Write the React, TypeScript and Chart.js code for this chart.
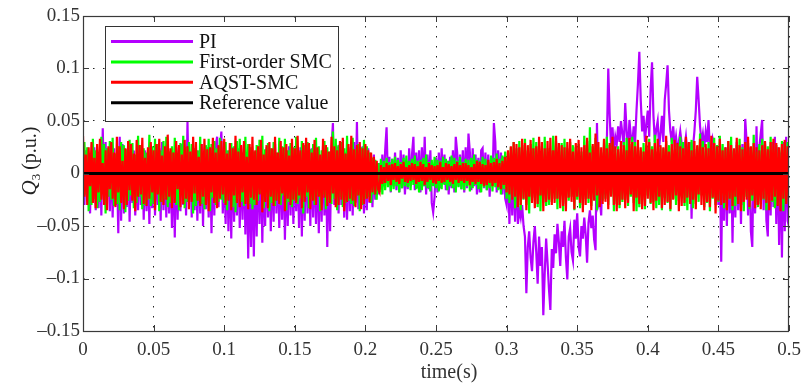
import React, { useEffect, useRef } from 'react';
import { Chart, registerables } from 'chart.js';

Chart.register(...registerables);

// sample step of the recorded signals (s); values below are in milli-p.u.
const DT = 0.001;

const PI_MILLI = [
  15, -30, 22, -25, 10, -38, 18, -28, 25, -35,
  12, -33, 20, -40, 43, -26, 30, -22, 14, -36,
  18, -42, 24, -30, 10, -57, 35, -45, 28, -38,
  20, -32, 30, -46, 15, -28, 22, -40, 12, -35,
  25, -30, 18, -44, 22, -36, 14, -48, 26, -33,
  20, -40, 16, -30, 24, -45, 30, -35, 18, -42,
  22, -38, 15, -52, 20, -61, 25, -44, 12, -36,
  28, -30, 20, -40, 49, -26, 18, -42, 24, -35,
  16, -45, 22, -38, 28, -50, 14, -34, 25, -42,
  20, -57, 18, -40, 26, 35, -32, 22, 40, -38,
  15, -48, 22, -55, 18, -62, 25, -46, 20, -40,
  24, -52, 16, -44, 28, -58, 20, -81, 14, -70,
  22, -79, 18, -60, 26, -48, 20, -66, 15, -50,
  25, -42, 18, -55, 22, -46, 28, -38, 16, -52,
  20, -44, 24, -63, 15, -50, 26, -40, 18, -48,
  22, -36, 17, -52, 25, -60, 20, -45, 28, -38,
  16, -50, 24, -42, 18, -48, 22, -57, 14, -46,
  26, -40, 20, -70, 15, -55, 24, 48, -30, 18,
  22, -38, 28, -30, 16, -42, 20, -44, 25, -36,
  18, -40, 30, -28, 49, -34, 22, -30, 26, -38,
  20, -35, 24, -28, 15, -32, 18, -25, 8, -20,
  10, -15, 18, -12, 22, 44, -10, 16, -18, 14,
  -12, 20, -16, 15, -18, 22, -14, 18, -20, 12,
  -15, 24, -12, 18, 35, -16, 20, -14, 22, -18,
  25, -12, 35, -20, 18, -15, 22, -28, -37, -22,
  15, -18, 20, -14, 24, -10, 18, -16, 12, -20,
  16, -14, 22, -18, 35, 20, -12, 18, -15, 22,
  -18, 25, -14, 38, 20, -16, 24, -12, 18, -20,
  15, -18, 22, 24, -14, 20, -16, 18, -22, 15,
  -12, 48, 30, -18, 22, -15, 20, -20, 16, -24,
  -30, 10, -48, 8, -40, 5, -46, 12, -48, -35,
  -42, -30, -50, -60, -114, -70, -55, -80, -93, -65,
  -50, -75, -105, -60, -88, -70, -135, -95, -62, -85,
  -110, -130, -72, -90, -58, -76, -48, -65, -88, -55,
  -70, -45, -80, -101, -60, -52, -75, -83, -44, -62,
  -38, -70, -79, -50, -62, -42, -58, -85, -47, -35,
  -52, -40, -63, -73, 48, -30, -25, -40, 15, -20,
  10, 30, 100, 55, 25, 44, 20, 35, 28, 45,
  30, 50, 38, 25, 67, 40, 22, 51, 35, 28,
  45, 30, 60, 85, 116, 70, 40, 55, 30, 48,
  60, 35, 80, 106, 55, 30, 42, 50, 25, 38,
  55, 30, 70, 85, 103, 60, 40, 30, 45, 25,
  35, 22, 30, 40, 28, 15, 25, 35, 20, 18,
  30, -43, 25, 40, 60, 92, 70, 45, 30, 38,
  25, 40, 30, 51, 22, 15, 33, 28, -20, 12,
  -30, 20, -84, 15, -45, 25, -50, 18, -38, 22,
  -66, 20, -42, 30, -35, 15, -48, 28, -30, 52,
  30, -40, 25, -55, -70, 20, -38, 45, -30, 25,
  38, 51, -35, 28, -45, -60, 22, -40, 30, -32,
  35, -48, 25, -68, 20, -80, 30, -55, 35, -45,
  -50,
];

const SMC1_MILLI = [
  -28, 30, -20, 25, -36, 18, -30, 33, -24, 22,
  -33, 20, -27, 35, -18, 28, -38, 24, -22, 31,
  -25, 34, -31, 19, -29, 26, -35, 30, -20, 27,
  -37, 23, -26, 32, -21, 29, -33, 18, -28, 36,
  -22, 27, -34, 24, -30, 20, -25, 37, -31, 26,
  -29, 33, -19, 28, -36, 22, -27, 31, -24, 35,
  -32, 21, -28, 26, -23, 34, -30, 19, -35, 29,
  -20, 36, -33, 25, -27, 30, -22, 28, -38, 24,
  -31, 22, -26, 35, -29, 20, -34, 27, -21, 33,
  -36, 28, -23, 31, -30, 24, -27, 34, -25, 19,
  -28, 30, -35, 22, -20, 29, -32, 26, -37, 31,
  -24, 33, -27, 20, -31, 35, -22, 28, -29, 25,
  -34, 21, -30, 27, -26, 32, -19, 36, -33, 23,
  -22, 29, -36, 24, -28, 30, -31, 20, -25, 34,
  -30, 26, -21, 33, -35, 22, -27, 29, -32, 25,
  -26, 35, -29, 20, -24, 31, -38, 27, -22, 30,
  -33, 23, -25, 28, -30, 34, -21, 26, -36, 22,
  -20, 31, -34, 25, -27, 21, -29, 40, -24, 33,
  -35, 27, -22, 30, -32, 24, -28, 36, -26, 21,
  -29, 34, -31, 23, -21, 28, -36, 25, -30, 32,
  -24, 26, -22, 20, -28, 15, -20, 13, -25, 10,
  -18, 14, -20, 12, -16, 15, -13, 11, -17, 14,
  -15, 16, -12, 13, -18, 11, -14, 15, -12, 17,
  -13, 12, -16, 14, -11, 17, -15, 12, -18, 13,
  -16, 15, -12, 18, -14, 11, -17, 13, -12, 16,
  -14, 13, -17, 12, -15, 16, -11, 14, -16, 12,
  -12, 17, -14, 15, -18, 12, -13, 16, -15, 11,
  -16, 14, -12, 13, -17, 15, -14, 18, -11, 13,
  -15, 12, -18, 16, -13, 14, -16, 11, -14, 17,
  -17, 15, -13, 19, -16, 14, -20, 17, -15, 21,
  -24, 20, -28, 25, -22, 30, -33, 24, -27, 31,
  -35, 27, -25, 33, -30, 22, -38, 28, -26, 34,
  -23, 30, -32, 26, -36, 21, -28, 35, -31, 24,
  -30, 22, -27, 36, -24, 31, -34, 25, -21, 29,
  -36, 33, -29, 24, -26, 30, -22, 27, -35, 25,
  -25, 28, -33, 21, -30, 36, -24, 31, -28, 44,
  -31, 26, -22, 34, -35, 25, -29, 20, -26, 32,
  -24, 35, -30, 27, -20, 31, -36, 23, -29, 26,
  -33, 21, -27, 30, -25, 34, -31, 28, -22, 35,
  -28, 30, -36, 24, -32, 22, -25, 29, -34, 27,
  -21, 33, -29, 26, -27, 37, -33, 21, -30, 25,
  -35, 24, -23, 31, -28, 27, -36, 34, -24, 22,
  -30, 28, -26, 35, -22, 30, -31, 25, -35, 29,
  -24, 32, -33, 23, -29, 26, -27, 38, -21, 31,
  -32, 25, -28, 30, -36, 22, -24, 34, -30, 27,
  -27, 36, -21, 28, -33, 24, -29, 31, -25, 35,
  -35, 22, -31, 27, -23, 33, -28, 25, -36, 30,
  -22, 29, -34, 24, -26, 37, -30, 21, -32, 28,
  -29, 33, -25, 30, -35, 26, -21, 35, -27, 23,
  -33, 27, -30, 22, -24, 31, -36, 28, -25, 30,
  -28,
];

const AQST_MILLI = [
  36, -22, 18, -30, 25, -12, 30, -28, 15, -33,
  28, -18, 33, -25, 10, -30, 22, -35, 26, -15,
  30, -24, 20, -32, 35, -18, 26, -28, 12, -34,
  24, -30, 31, -16, 28, -26, 19, -36, 32, -22,
  27, -20, 34, -29, 15, -31, 25, -24, 30, -18,
  22, -35, 28, -20, 33, -27, 17, -30, 26, -25,
  37, -22, 24, -33, 20, -28, 31, -15, 27, -32,
  18, -29, 32, -24, 26, -34, 21, -27, 35, -19,
  30, -26, 16, -31, 28, -22, 33, -30, 23, -36,
  25, -18, 34, -28, 20, -33, 27, -24, 31, -20,
  33, -30, 19, -26, 29, -35, 24, -21, 36, -28,
  21, -32, 27, -18, 31, -29, 16, -34, 28, -23,
  35, -25, 22, -30, 26, -20, 32, -37, 18, -27,
  27, -33, 30, -22, 24, -31, 35, -26, 20, -29,
  31, -19, 25, -36, 28, -24, 17, -30, 33, -25,
  24, -28, 36, -21, 22, -33, 29, -27, 34, -18,
  29, -34, 20, -26, 32, -30, 25, -22, 18, -35,
  33, -23, 27, -31, 21, -28, 35, -19, 26, -32,
  22, -30, 31, -25, 34, -36, 19, -27, 28, -24,
  36, -26, 23, -32, 27, -21, 30, -34, 24, -29,
  28, -24, 22, -27, 20, -18, 16, -20, 12, -15,
  -18, 8, -10, 6, -9, 10, -7, 8, -11, 9,
  -6, 10, -8, 7, -10, 9, -5, 11, -8, 6,
  -9, 8, -7, 10, -6, 9, -10, 7, -8, 11,
  -7, 9, -11, 6, -8, 10, -6, 8, -9, 7,
  -10, 8, -7, 11, -9, 6, -8, 10, -6, 9,
  -8, 7, -10, 9, -6, 11, -9, 8, -7, 10,
  -9, 10, -7, 8, -11, 6, -8, 9, -10, 12,
  -8, 11, -10, 9, -12, 8, -11, 13, -9, 10,
  -12, 11, -9, 14, -13, 10, -15, 12, -11, 16,
  -18, 22, -20, 26, -25, 30, -22, 28, -32, 25,
  -30, 33, -24, 29, -35, 27, -22, 32, -28, 24,
  -33, 26, -29, 35, -21, 30, -36, 24, -27, 31,
  -25, 34, -30, 22, -28, 36, -24, 29, -33, 27,
  -31, 25, -36, 30, -23, 33, -27, 21, -34, 29,
  -22, 32, -28, 25, -37, 27, -30, 34, -24, 20,
  -35, 28, -26, 38, -21, 30, -32, 25, -29, 33,
  -27, 24, -34, 29, -22, 35, -30, 26, -36, 23,
  -30, 31, -25, 27, -33, 22, -28, 34, -20, 30,
  -36, 26, -23, 32, -29, 25, -34, 21, -31, 36,
  -24, 30, -28, 23, -35, 29, -26, 33, -22, 27,
  -33, 25, -30, 36, -27, 21, -34, 28, -25, 32,
  -21, 29, -36, 26, -31, 24, -28, 35, -23, 30,
  -29, 22, -25, 31, -34, 27, -20, 33, -30, 25,
  -35, 28, -27, 24, -32, 36, -23, 29, -38, 26,
  -26, 33, -30, 22, -28, 25, -35, 31, -24, 27,
  -31, 24, -22, 34, -29, 27, -36, 23, -27, 30,
  -25, 35, -32, 26, -21, 29, -33, 25, -30, 22,
  -34, 27, -24, 31, -28, 23, -35, 30, -26, 33,
  -22, 29, -31, 25, -36, 28, -24, 32, -29, 26,
  -30,
];

const REFERENCE_VALUE = 0;
const T_START = 0;
const T_END = 0.5;

const SERIES_NAMES = ['PI', 'First-order SMC', 'AQST-SMC', 'Reference value'];
const SERIES_COLORS = ['#B400FF', '#00FF00', '#FF0000', '#000000'];

const X_TICKS = [0, 0.05, 0.1, 0.15, 0.2, 0.25, 0.3, 0.35, 0.4, 0.45, 0.5];
const X_LABELS = ['0', '0.05', '0.1', '0.15', '0.2', '0.25', '0.3', '0.35', '0.4', '0.45', '0.5'];
const Y_TICKS = [-0.15, -0.1, -0.05, 0, 0.05, 0.1, 0.15];
const Y_LABELS = ['\u20130.15', '\u20130.1', '\u20130.05', '0', '0.05', '0.1', '0.15'];

const X_TITLE = 'time(s)';

const FONT = '"Liberation Serif", "Times New Roman", serif';

const toPoints = (arr: number[]) => arr.map((v, i) => ({ x: i * DT, y: v / 1000 }));

const framePlugin = {
  id: 'matlabFrame',
  beforeDraw(chart: any) {
    const ctx = chart.ctx;
    ctx.save();
    ctx.fillStyle = '#ffffff';
    ctx.fillRect(0, 0, chart.width, chart.height);
    ctx.restore();
  },
  afterDraw(chart: any) {
    const ctx = chart.ctx;
    const { left, right, top, bottom } = chart.chartArea;
    const xs = chart.scales.x;
    const ys = chart.scales.y;
    ctx.save();
    // frame
    ctx.strokeStyle = '#3a3a3a';
    ctx.lineWidth = 1.2;
    ctx.setLineDash([]);
    ctx.strokeRect(left + 0.5, top + 0.5, right - left - 1, bottom - top);
    // inward tick marks
    ctx.lineWidth = 1;
    ctx.beginPath();
    X_TICKS.forEach((v) => {
      const px = Math.round(xs.getPixelForValue(v)) + 0.5;
      ctx.moveTo(px, bottom);
      ctx.lineTo(px, bottom - 6);
      ctx.moveTo(px, top);
      ctx.lineTo(px, top + 6);
    });
    Y_TICKS.forEach((v) => {
      const py = Math.round(ys.getPixelForValue(v)) + 0.5;
      ctx.moveTo(left, py);
      ctx.lineTo(left + 6, py);
      ctx.moveTo(right, py);
      ctx.lineTo(right - 6, py);
    });
    ctx.stroke();

    // legend box
    const bx = 105.5, by = 26.5, bw = 233, bh = 95;
    ctx.fillStyle = '#ffffff';
    ctx.fillRect(bx, by, bw, bh);
    ctx.strokeStyle = '#333333';
    ctx.lineWidth = 1;
    ctx.strokeRect(bx, by, bw, bh);
    ctx.font = `20px ${FONT}`;
    ctx.textBaseline = 'middle';
    ctx.textAlign = 'left';
    chart.data.datasets.forEach((ds: any, i: number) => {
      const y = 41.5 + i * 20.4;
      ctx.strokeStyle = ds.borderColor;
      ctx.lineWidth = 3;
      ctx.beginPath();
      ctx.moveTo(111, y);
      ctx.lineTo(193, y);
      ctx.stroke();
      ctx.fillStyle = '#111111';
      ctx.fillText(ds.label, 199, y + 1);
    });

    // x title
    ctx.fillStyle = '#333333';
    ctx.font = `20px ${FONT}`;
    ctx.textAlign = 'center';
    ctx.textBaseline = 'middle';
    ctx.fillText(X_TITLE, 449, 373);

    // y title: Q_3 (p.u.)
    ctx.translate(29, 161);
    ctx.rotate(-Math.PI / 2);
    const fQ = `italic 21px ${FONT}`;
    const fSub = `13px ${FONT}`;
    const fRest = `20px ${FONT}`;
    ctx.font = fQ;
    const wQ = ctx.measureText('Q').width;
    ctx.font = fSub;
    const wS = ctx.measureText('3').width;
    ctx.font = fRest;
    const rest = '\u2009(p.u.)';
    const wR = ctx.measureText(rest).width;
    let x0 = -(wQ + wS + wR) / 2;
    ctx.textAlign = 'left';
    ctx.textBaseline = 'alphabetic';
    ctx.fillStyle = '#222222';
    ctx.font = fQ;
    ctx.fillText('Q', x0, 7);
    x0 += wQ;
    ctx.font = fSub;
    ctx.fillText('3', x0, 11);
    x0 += wS;
    ctx.font = fRest;
    ctx.fillText(rest, x0, 7);
    ctx.restore();
  },
};

export default function App() {
  const ref = useRef<HTMLCanvasElement>(null);

  useEffect(() => {
    const canvas = ref.current;
    if (!canvas) return;
    const series = [PI_MILLI, SMC1_MILLI, AQST_MILLI];
    const datasets: any[] = series.map((arr, i) => ({
      label: SERIES_NAMES[i],
      data: toPoints(arr),
      borderColor: SERIES_COLORS[i],
      backgroundColor: SERIES_COLORS[i],
      borderWidth: 2.2,
      pointRadius: 0,
      tension: 0,
      fill: false,
      order: 4 - i,
    }));
    datasets.push({
      label: SERIES_NAMES[3],
      data: [
        { x: T_START, y: REFERENCE_VALUE },
        { x: T_END, y: REFERENCE_VALUE },
      ],
      borderColor: SERIES_COLORS[3],
      backgroundColor: SERIES_COLORS[3],
      borderWidth: 3,
      pointRadius: 0,
      fill: false,
      order: 1,
    });

    const tickFont = { family: FONT, size: 19 };

    const chart = new Chart(canvas, {
      type: 'line',
      data: { datasets },
      options: {
        responsive: false,
        animation: false,
        events: [],
        layout: { padding: { left: 0, right: 12, top: 16, bottom: 0 } },
        plugins: { legend: { display: false }, tooltip: { enabled: false } },
        scales: {
          x: {
            type: 'linear',
            min: T_START,
            max: T_END,
            afterBuildTicks: (s: any) => {
              s.ticks = X_TICKS.map((v) => ({ value: v }));
            },
            afterFit: (s: any) => {
              s.height = 54;
              s.paddingLeft = 0;
              s.paddingRight = 0;
            },
            ticks: {
              callback: (_v: any, i: number) => X_LABELS[i],
              font: tickFont,
              color: '#333333',
              padding: 8,
              maxRotation: 0,
              autoSkip: false,
            },
            grid: { color: '#222222', lineWidth: 1, drawTicks: false },
            border: { display: false, dash: [1.5, 8.5] },
          },
          y: {
            type: 'linear',
            min: -0.15,
            max: 0.15,
            afterBuildTicks: (s: any) => {
              s.ticks = Y_TICKS.map((v) => ({ value: v }));
            },
            afterFit: (s: any) => {
              s.width = 83;
              s.paddingTop = 0;
              s.paddingBottom = 0;
            },
            ticks: {
              callback: (_v: any, i: number) => Y_LABELS[i],
              font: tickFont,
              color: '#333333',
              padding: 3,
              autoSkip: false,
            },
            grid: { color: '#222222', lineWidth: 1, drawTicks: false },
            border: { display: false, dash: [1.5, 8.5] },
          },
        },
      } as any,
      plugins: [framePlugin],
    });
    return () => chart.destroy();
  }, []);

  return (
    <div style={{ position: 'fixed', left: 0, top: 0, width: 801, height: 385, background: '#fff' }}>
      <canvas ref={ref} width={801} height={385} style={{ width: 801, height: 385, display: 'block' }} />
    </div>
  );
}
